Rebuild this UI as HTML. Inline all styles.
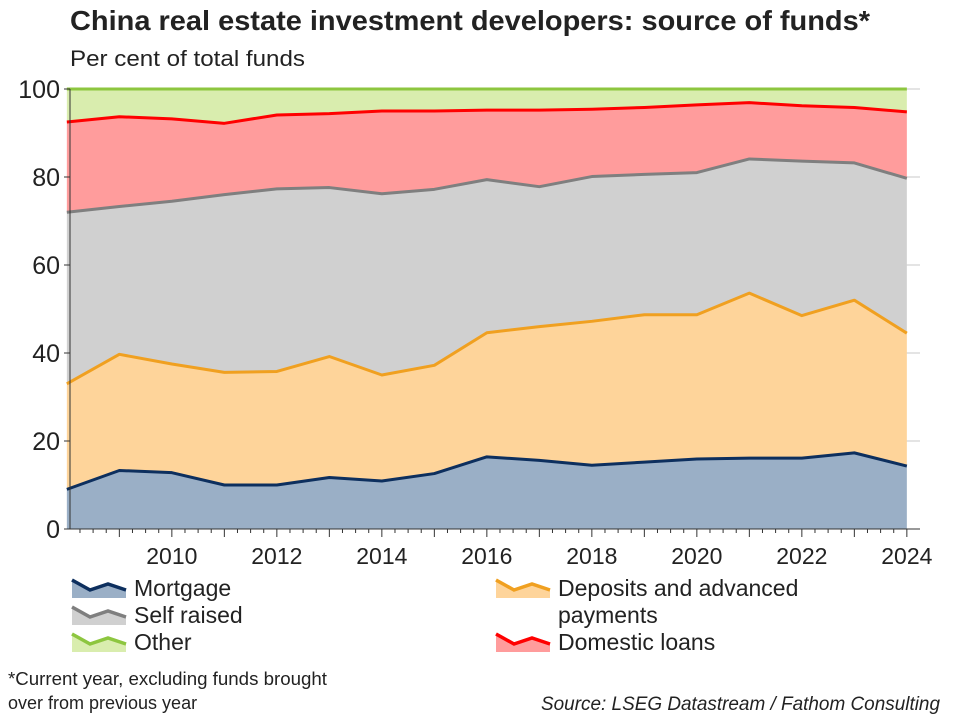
<!DOCTYPE html>
<html><head><meta charset="utf-8"><style>
body{margin:0;background:#fff;font-family:"Liberation Sans",Arial,sans-serif;}
svg text{font-family:"Liberation Sans",Arial,sans-serif;}
</style></head><body>
<svg width="960" height="720" viewBox="0 0 960 720">
<text x="70" y="30" font-size="28" font-weight="bold" fill="#222" textLength="800" lengthAdjust="spacingAndGlyphs">China real estate investment developers: source of funds*</text>
<text x="70" y="66" font-size="22" fill="#222" textLength="235" lengthAdjust="spacingAndGlyphs">Per cent of total funds</text>
<g id="grid"></g>
<g id="areas"></g>
<g id="axes"></g>
<g id="legend" font-size="23" fill="#222"></g>
<text x="8" y="685" font-size="18" fill="#222" textLength="319" lengthAdjust="spacingAndGlyphs">*Current year, excluding funds brought</text>
<text x="8" y="709" font-size="18" fill="#222">over from previous year</text>
<text x="940" y="710" font-size="19" font-style="italic" text-anchor="end" fill="#222" textLength="399" lengthAdjust="spacingAndGlyphs">Source: LSEG Datastream / Fathom Consulting</text>
</svg>
<script>
const years=[2008,2009,2010,2011,2012,2013,2014,2015,2016,2017,2018,2019,2020,2021,2022,2023,2024];
const mortgage=[9,13.3,12.8,10,10,11.7,10.9,12.6,16.4,15.6,14.5,15.2,15.9,16.1,16.1,17.3,14.3];
const deposits=[24,26.4,24.7,25.6,25.8,27.5,24.1,24.6,28.2,30.4,32.7,33.5,32.8,37.5,32.4,34.7,30.2];
const selfRaised=[39,33.6,37,40.4,41.5,38.4,41.2,40,34.8,31.8,32.9,31.9,32.3,30.5,35.1,31.2,35.2];
const domesticLoans=[20.5,20.4,18.7,16.2,16.8,16.8,18.8,17.8,15.8,17.4,15.3,15.2,15.4,12.8,12.6,12.6,15.1];
const yTicks=[0,20,40,60,80,100];
const xTicks=[2010,2012,2014,2016,2018,2020,2022,2024];
const NS="http://www.w3.org/2000/svg";
const X0=70,X1=910,Y0=529,Y1=89;
const xs=t=>X0+(t-2008.06)/16*(X1-X0);
const ys=v=>Y0-(v/100)*(Y0-Y1);
function mk(tag,attrs,parent){const e=document.createElementNS(NS,tag);for(const k in attrs)e.setAttribute(k,attrs[k]);parent.appendChild(e);return e;}
const grid=document.getElementById('grid'),areas=document.getElementById('areas'),axes=document.getElementById('axes'),leg=document.getElementById('legend');
yTicks.forEach(v=>{
 const l=mk('line',{x1:X0,x2:920,y1:ys(v),y2:ys(v),stroke:'#c8c8c8','stroke-width':1},grid);
 
 
 const t=mk('text',{x:60,y:ys(v)+9,'font-size':25,'text-anchor':'end',fill:'#222'},axes);
 t.textContent=v;
 
 
 mk('line',{x1:64,x2:70,y1:ys(v),y2:ys(v),stroke:'#333'},axes);
});
const series=[
 {name:'mortgage',vals:mortgage,fill:'#9aafc6',line:'#0d2f5e'},
 {name:'deposits',vals:deposits,fill:'#fed49a',line:'#f0a020'},
 {name:'self-raised',vals:selfRaised,fill:'#d0d0d0',line:'#7f7f7f'},
 {name:'domestic-loans',vals:domesticLoans,fill:'#ff9c9c',line:'#ff0000'},
];
let base=years.map(()=>0);
const tops=[];
series.forEach(s=>{
 const top=base.map((b,i)=>b+s.vals[i]);
 tops.push({s,top,base:base.slice()});
 base=top;
});
const otherTop=years.map(()=>100);
tops.push({s:{name:'other',fill:'#d9edae',line:'#8dc63f'},top:otherTop,base:base.slice()});
tops.forEach(o=>{
 let d='';
 years.forEach((y,i)=>{d+=(i?'L':'M')+xs(y)+','+ys(o.top[i]);});
 for(let i=years.length-1;i>=0;i--)d+='L'+xs(years[i])+','+ys(o.base[i]);
 const p=mk('path',{d:d+'Z',fill:o.s.fill},areas);
 
 
});
tops.forEach(o=>{
 const pts=years.map((y,i)=>xs(y)+','+ys(o.top[i])).join(' ');
 const l=mk('polyline',{points:pts,fill:'none',stroke:o.s.line,'stroke-width':3,'stroke-linejoin':'round'},areas);
 
 
});
mk('line',{x1:70,x2:70,y1:Y1,y2:Y0,stroke:'#333'},axes);
mk('line',{x1:70,x2:920,y1:Y0,y2:Y0,stroke:'#333'},axes);
for(let q=2008.25;q<=2024.5;q+=0.25){
 const x=xs(q);if(x<72||x>919)continue;
 const major=Math.abs(q-Math.round(q))<0.01;
 mk('line',{x1:x,x2:x,y1:Y0,y2:Y0+(major?8:4),stroke:'#333'},axes);
}
xTicks.forEach(t=>{
 const e=mk('text',{x:xs(t),y:564,'font-size':23,'text-anchor':'middle',fill:'#222'},axes);
 e.textContent=t;
 
 
});
const legItems=[
 {x:72,y:580,label:['Mortgage'],fill:'#9aafc6',line:'#0d2f5e',n:'mortgage'},
 {x:72,y:607,label:['Self raised'],fill:'#d0d0d0',line:'#7f7f7f',n:'self-raised'},
 {x:72,y:634,label:['Other'],fill:'#d9edae',line:'#8dc63f',n:'other'},
 {x:496,y:580,label:['Deposits and advanced','payments'],fill:'#fed49a',line:'#f0a020',n:'deposits'},
 {x:496,y:634,label:['Domestic loans'],fill:'#ff9c9c',line:'#ff0000',n:'domestic-loans'},
];
legItems.forEach(it=>{
 const g=mk('g',{},leg);
 
 
 const x=it.x,y=it.y;
 mk('path',{d:`M${x},${y}L${x+18},${y+10}L${x+36},${y+4}L${x+54},${y+10}L${x+54},${y+18}L${x},${y+18}Z`,fill:it.fill},g);
 mk('polyline',{points:`${x},${y} ${x+18},${y+10} ${x+36},${y+4} ${x+54},${y+10}`,fill:'none',stroke:it.line,'stroke-width':3.5},g);
 it.label.forEach((s,i)=>{const t=mk('text',{x:x+62,y:y+16+i*27},g);t.textContent=s;});
});
</script>
</body></html>
